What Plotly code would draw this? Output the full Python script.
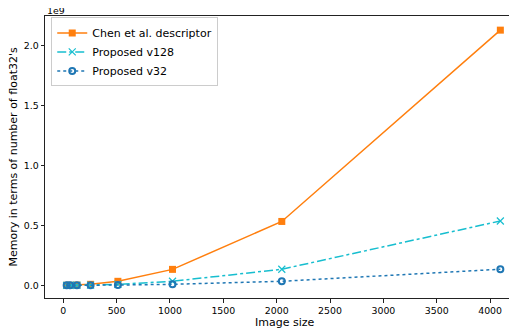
import plotly.graph_objects as go

image_size = [32, 64, 128, 256, 512, 1024, 2048, 4096]
chen = [1.3e5, 5.2e5, 2.08e6, 8.3e6, 3.33e7, 1.33e8, 5.33e8, 2.13e9]
v128 = [3.3e4, 1.3e5, 5.2e5, 2.1e6, 8.4e6, 3.36e7, 1.34e8, 5.37e8]
v32 = [8.2e3, 3.3e4, 1.3e5, 5.2e5, 2.1e6, 8.4e6, 3.36e7, 1.34e8]

y_ticks = [0, 0.5e9, 1.0e9, 1.5e9, 2.0e9]
y_tick_labels = ["0.0", "0.5", "1.0", "1.5", "2.0"]
x_ticks = [0, 500, 1000, 1500, 2000, 2500, 3000, 3500, 4000]

font = "DejaVu Sans"

fig = go.Figure()
fig.add_trace(go.Scatter(x=image_size, y=chen, name="Chen et al. descriptor",
                         mode="lines+markers", cliponaxis=False,
                         line=dict(color="#ff7f0e", width=1.5, dash="solid"),
                         marker=dict(symbol="square", size=7, color="#ff7f0e")))
fig.add_trace(go.Scatter(x=image_size, y=v128, name="Proposed v128",
                         mode="lines+markers", cliponaxis=False,
                         line=dict(color="#17becf", width=1.5, dash="dashdot"),
                         marker=dict(symbol="x-thin", size=7,
                                     line=dict(color="#17becf", width=1.2))))
fig.add_trace(go.Scatter(x=image_size, y=v32, name="Proposed v32",
                         mode="lines+markers", cliponaxis=False,
                         line=dict(color="#1f77b4", width=1.5, dash="dot"),
                         marker=dict(symbol="circle-open", size=6,
                                     line=dict(color="#1f77b4", width=2))))

fig.update_layout(
    width=517, height=330,
    margin=dict(l=37, r=0, t=8, b=40),
    paper_bgcolor="white", plot_bgcolor="white",
    font=dict(family=font, size=9.4, color="black"),
    showlegend=True,
    legend=dict(x=0.013, y=0.995, xanchor="left", yanchor="top",
                bgcolor="rgba(255,255,255,0.8)", bordercolor="#cccccc",
                borderwidth=1, font=dict(size=11, family=font),
                tracegroupgap=0, itemwidth=30),
    xaxis=dict(range=[-171, 4327], tickvals=x_ticks, showgrid=False,
               zeroline=False, showline=True, linecolor="#222", linewidth=1,
               mirror=True, ticks="outside", ticklen=3.5, tickcolor="#222",
               automargin=False),
    yaxis=dict(range=[-0.106e9, 2.248e9], tickvals=y_ticks,
               ticktext=y_tick_labels, showgrid=False, zeroline=False,
               showline=True, linecolor="#222", linewidth=1,
               ticks="outside", ticklen=3.5, tickcolor="#222",
               automargin=False),
    annotations=[
        dict(text="1e9", x=0, y=1, xref="paper", yref="paper",
             xanchor="left", yanchor="bottom", showarrow=False,
             font=dict(size=9.4, family=font), yshift=-2),
        dict(text="Image size", x=0.5, y=0, xref="paper", yref="paper",
             xanchor="center", yanchor="top", showarrow=False,
             font=dict(size=11, family=font), yshift=-16),
        dict(text="Memory in terms of number of float32's", x=0, y=0.5,
             xref="paper", yref="paper", xanchor="right", yanchor="middle",
             showarrow=False, textangle=-90,
             font=dict(size=11, family=font), xshift=-24),
    ],
)

fig.write_html("out.html")
